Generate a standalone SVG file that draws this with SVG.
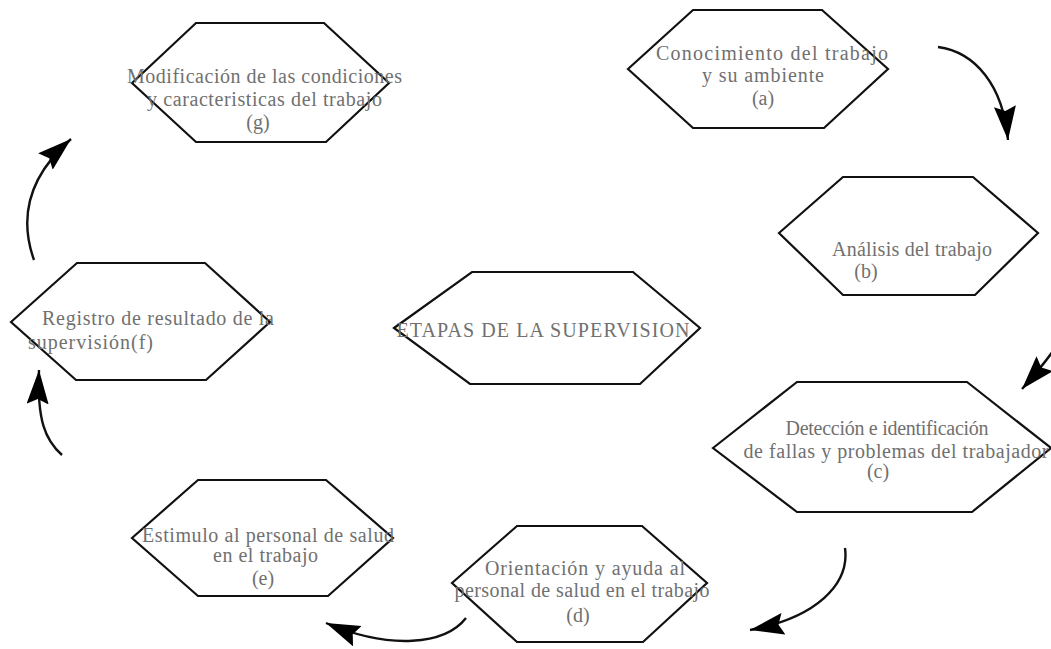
<svg xmlns="http://www.w3.org/2000/svg" width="1051" height="649" viewBox="0 0 1051 649">
<style>
.hex{fill:#fff;stroke:#111;stroke-width:2.2;stroke-linejoin:miter}
.t{font-family:"Liberation Serif","Times New Roman",serif;font-size:20px;fill:#707070}
.m{text-anchor:middle}
.c{fill:none;stroke:#111;stroke-width:2.4}
</style>
<defs>
<marker id="ah" markerUnits="userSpaceOnUse" markerWidth="40" markerHeight="26" refX="34" refY="11" orient="auto">
<path d="M0,0 L34,11 L0,22 L5,11 z" fill="#000"/>
</marker>
</defs>
<rect width="1051" height="649" fill="#fff"/>

<g id="node-g">
<polygon class="hex" points="132,83 196,23 324,23 389,83 326,142 196,142"/>
<text class="t m" x="264.5" y="83" textLength="275" lengthAdjust="spacing">Modificación de las condiciones</text>
<text class="t m" x="264.5" y="106" textLength="235" lengthAdjust="spacing">y  caracteristicas del trabajo</text>
<text class="t m" x="258" y="129">(g)</text>
</g>

<g id="node-a">
<polygon class="hex" points="628,69 693,10 822,10 888,69 824,128 693,128"/>
<text class="t m" x="772" y="60" textLength="232" lengthAdjust="spacing">Conocimiento del trabajo</text>
<text class="t m" x="763" y="82" textLength="122" lengthAdjust="spacing">y  su ambiente</text>
<text class="t m" x="763" y="105">(a)</text>
</g>

<g id="node-b">
<polygon class="hex" points="779,233 843,177 973,177 1038,233 975,295 843,295"/>
<text class="t m" x="912" y="256" textLength="160" lengthAdjust="spacing">Análisis del trabajo</text>
<text class="t m" x="866" y="278">(b)</text>
</g>

<g id="node-center">
<polygon class="hex" points="394,328 472,272 633,272 700,328 640,384 470,384"/>
<text class="t m" x="543" y="337" textLength="293" lengthAdjust="spacing">ETAPAS DE LA SUPERVISION</text>
</g>

<g id="node-c">
<polygon class="hex" points="713,448 797,382 967,382 1051,448 972,512 797,512"/>
<text class="t m" x="887" y="435" textLength="203" lengthAdjust="spacing">Detección e identificación</text>
<text class="t m" x="896" y="458" textLength="305" lengthAdjust="spacing">de fallas y  problemas del trabajador</text>
<text class="t m" x="878" y="478">(c)</text>
</g>

<g id="node-d">
<polygon class="hex" points="452,583 517,526 642,526 707,583 643,642 517,642"/>
<text class="t m" x="585" y="575" textLength="200" lengthAdjust="spacing">Orientación y  ayuda al</text>
<text class="t m" x="582" y="597" textLength="255" lengthAdjust="spacing">personal de salud en el trabajo</text>
<text class="t m" x="578" y="622">(d)</text>
</g>

<g id="node-e">
<polygon class="hex" points="132,538 198,480 326,480 393,538 328,596 198,596"/>
<text class="t m" x="268" y="542" textLength="252" lengthAdjust="spacing">Estimulo al personal de salud</text>
<text class="t m" x="265.5" y="562" textLength="105" lengthAdjust="spacing">en el trabajo</text>
<text class="t m" x="263" y="585">(e)</text>
</g>

<g id="node-f">
<polygon class="hex" points="11,322 77,263 205,263 270,322 206,380 76,380"/>
<text class="t" x="42" y="325" textLength="232" lengthAdjust="spacing">Registro de resultado de la</text>
<text class="t" x="28" y="349" textLength="125" lengthAdjust="spacing">supervisión(f)</text>
</g>

<g id="connectors">
<path class="c" d="M938,47 C975,52 1003,85 1008,140" marker-end="url(#ah)"/>
<path class="c" d="M1062,338 Q1048,360 1022,389" marker-end="url(#ah)"/>
<path class="c" d="M845,548 C850,585 815,618 750,630" marker-end="url(#ah)"/>
<path class="c" d="M466,618 C445,645 390,650 326,623" marker-end="url(#ah)"/>
<path class="c" d="M62,455 C45,440 37,420 39,370" marker-end="url(#ah)"/>
<path class="c" d="M34,260 C18,215 30,175 71,139" marker-end="url(#ah)"/>
</g>
</svg>
